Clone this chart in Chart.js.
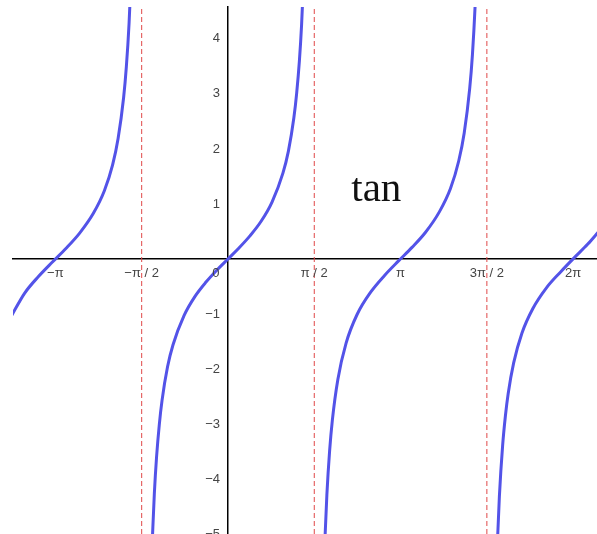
<!DOCTYPE html>
<html>
<head>
<meta charset="utf-8">
<script src="https://cdn.jsdelivr.net/npm/chart.js@4.4.1/dist/chart.umd.min.js"></script>
<style>
  html, body { margin: 0; padding: 0; background: #fff; }
  #wrap { width: 597px; height: 534px; position: relative; }
</style>
</head>
<body>
<div id="wrap"><canvas id="tan-chart"></canvas></div>
<script>
// branches of the curve (x in radians, y = value)
const branch1X = [-3.95, -3.7, -3.45, -3.2, -2.95, -2.7, -2.45, -2.25, -2.1, -2.0, -1.9, -1.85, -1.8, -1.76];
const branch1Y = [-1.05, -0.62, -0.32, -0.06, 0.19, 0.47, 0.83, 1.24, 1.71, 2.19, 2.93, 3.49, 4.29, 5.22];

const branch2X = [-1.38, -1.34, -1.3, -1.25, -1.2, -1.1, -1.0, -0.8, -0.6, -0.4, -0.2, 0, 0.2, 0.4, 0.6, 0.8, 1.0, 1.1, 1.2, 1.25, 1.3, 1.34, 1.38];
const branch2Y = [-5.18, -4.26, -3.6, -3.01, -2.57, -1.96, -1.56, -1.03, -0.68, -0.42, -0.2, 0, 0.2, 0.42, 0.68, 1.03, 1.56, 1.96, 2.57, 3.01, 3.6, 4.26, 5.18];

const branch3X = [1.76, 1.8, 1.85, 1.9, 2.0, 2.15, 2.35, 2.6, 2.85, 3.1, 3.35, 3.6, 3.85, 4.05, 4.2, 4.3, 4.4, 4.45, 4.5, 4.54];
const branch3Y = [-5.22, -4.29, -3.49, -2.93, -2.19, -1.53, -1.01, -0.6, -0.3, -0.04, 0.21, 0.49, 0.86, 1.28, 1.78, 2.29, 3.1, 3.72, 4.64, 5.74];

const branch4X = [4.9, 4.94, 5.0, 5.05, 5.1, 5.2, 5.35, 5.55, 5.8, 6.05, 6.3, 6.55, 6.75];
const branch4Y = [-5.27, -4.32, -3.38, -2.85, -2.45, -1.89, -1.35, -0.9, -0.52, -0.24, 0.02, 0.27, 0.5];

// vertical asymptotes (dashed)
const asymptoteX = [-1.5708, 1.5708, 4.7124];

// axis ticks
const xTickVals   = [-3.1416, -1.5708, 1.5708, 3.1416, 4.7124, 6.2832];
const xTickLabels = ['\u2212\u03c0', '\u2212\u03c0 / 2', '\u03c0 / 2', '\u03c0', '3\u03c0 / 2', '2\u03c0'];
const yTickVals   = [-5, -4, -3, -2, -1, 1, 2, 3, 4];
const yTickLabels = ['\u22125', '\u22124', '\u22123', '\u22122', '\u22121', '1', '2', '3', '4'];

const xMin = -3.913, xMax = 6.717;
const yMin = -5.0, yMax = 4.58;

const CURVE = '#5353e8';
const DASH  = '#e04848';
const TICK  = '#444';
const TICK_FONT = '13px "Liberation Sans", Arial, sans-serif';

const toPts = (xs, ys) => xs.map((x, i) => ({ x, y: ys[i] }));

const curveSet = (xs, ys) => ({
  data: toPts(xs, ys),
  borderColor: CURVE,
  borderWidth: 3,
  pointRadius: 0,
  fill: false,
  cubicInterpolationMode: 'monotone'
});

const dashSet = x => ({
  data: [{ x, y: yMin }, { x, y: yMax }],
  borderColor: DASH,
  borderWidth: 1,
  borderDash: [5, 3],
  pointRadius: 0,
  fill: false
});

// tick labels next to the axes, the "0" label and the "tan" caption
const labels = {
  id: 'labels',
  afterDraw(chart) {
    const { ctx, scales: { x, y } } = chart;
    const x0 = x.getPixelForValue(0), y0 = y.getPixelForValue(0);
    ctx.save();
    ctx.fillStyle = TICK;
    ctx.font = TICK_FONT;
    ctx.textBaseline = 'middle';

    ctx.textAlign = 'center';
    xTickVals.forEach((v, i) => ctx.fillText(xTickLabels[i], x.getPixelForValue(v), y0 + 14));
    ctx.fillText('0', x0 - 12, y0 + 14);

    ctx.textAlign = 'right';
    yTickVals.forEach((v, i) => ctx.fillText(yTickLabels[i], x0 - 8, y.getPixelForValue(v)));

    ctx.fillStyle = '#111';
    ctx.font = '41px "Liberation Serif", "Times New Roman", serif';
    ctx.textAlign = 'center';
    ctx.textBaseline = 'alphabetic';
    ctx.fillText('tan', x.getPixelForValue(2.7), y.getPixelForValue(1.06));
    ctx.restore();
  }
};

new Chart(document.getElementById('tan-chart'), {
  type: 'line',
  data: {
    datasets: [
      ...asymptoteX.map(dashSet),
      curveSet(branch1X, branch1Y),
      curveSet(branch2X, branch2Y),
      curveSet(branch3X, branch3Y),
      curveSet(branch4X, branch4Y)
    ]
  },
  options: {
    responsive: true, maintainAspectRatio: false,
    animation: false,
    layout: { padding: { left: 13, top: 7, right: 0, bottom: 0 } },
    plugins: { legend: { display: false }, tooltip: { enabled: false } },
    scales: {
      x: {
        type: 'linear', min: xMin, max: xMax,
        position: { y: 0 },
        grid: { display: false },
        border: { display: true, color: '#000', width: 1.5 },
        ticks: { display: false }
      },
      y: {
        type: 'linear', min: yMin, max: yMax,
        position: { x: 0 },
        grid: { display: false },
        border: { display: true, color: '#000', width: 1.5 },
        ticks: { display: false }
      }
    }
  },
  plugins: [labels]
});
</script>
</body>
</html>
